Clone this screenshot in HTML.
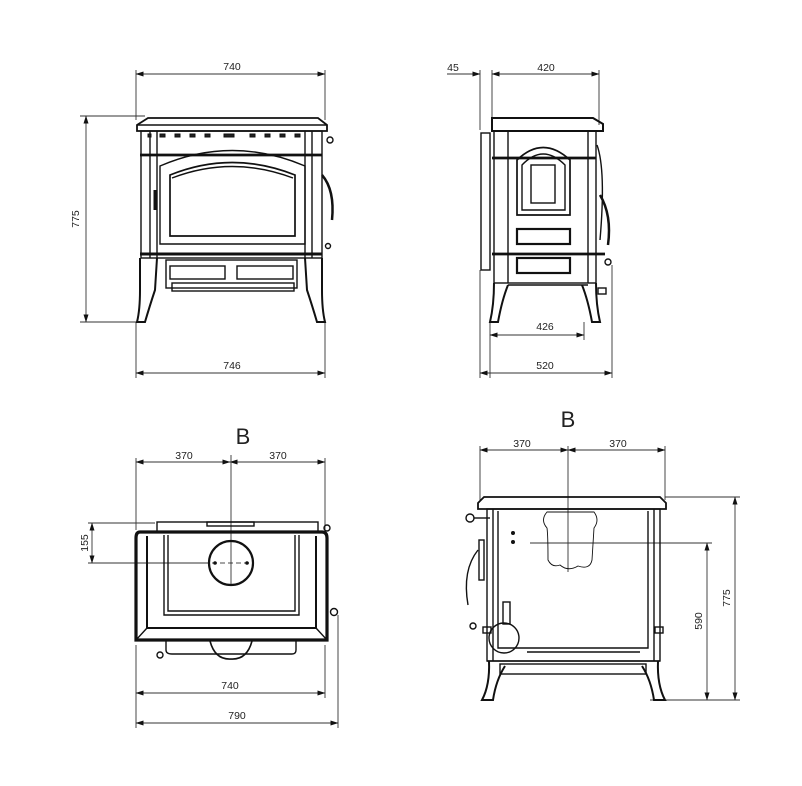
<!DOCTYPE html>
<html><head><meta charset="utf-8"><style>
body{margin:0;background:#fff}
svg{display:block}
text{font-family:"Liberation Sans",sans-serif;font-size:10.5px;fill:#222}
</style></head><body>
<svg width="802" height="786" viewBox="0 0 802 786" xmlns="http://www.w3.org/2000/svg">
<defs>
<marker id="a" markerWidth="8" markerHeight="6" refX="7.5" refY="3" orient="auto-start-reverse" markerUnits="userSpaceOnUse"><path d="M0,0.5 L8,3 L0,5.5z" fill="#111"/></marker>
</defs>
<g stroke="#333" stroke-width="0.9" fill="none">
<line x1="136" y1="70" x2="136" y2="120"/><line x1="325" y1="70" x2="325" y2="120"/>
<line x1="136" y1="74" x2="325" y2="74" marker-start="url(#a)" marker-end="url(#a)"/>
<line x1="80" y1="116" x2="145" y2="116"/><line x1="80" y1="322" x2="140" y2="322"/>
<line x1="86" y1="116" x2="86" y2="322" marker-start="url(#a)" marker-end="url(#a)"/>
<line x1="136" y1="322" x2="136" y2="378"/><line x1="325" y1="322" x2="325" y2="378"/>
<line x1="136" y1="373" x2="325" y2="373" marker-start="url(#a)" marker-end="url(#a)"/>
</g>
<g stroke="#111" fill="none" stroke-width="1.4">
<path d="M148,118 L318,118 L327,125 L327,131 L137,131 L137,125 Z" stroke-width="1.8"/>
<line x1="137" y1="125" x2="327" y2="125"/>
<rect x="141" y="131" width="181" height="127"/>
<line x1="150" y1="131" x2="150" y2="258"/><line x1="312" y1="131" x2="312" y2="258"/>
<line x1="157" y1="131" x2="157" y2="258"/><line x1="305" y1="131" x2="305" y2="258"/>
<line x1="140" y1="155" x2="322" y2="155" stroke-width="2.8"/>
<path d="M160,166 Q232,135 305,166 L305,244 L160,244 Z"/>
<path d="M170,175 Q232,150 295,175 L295,236 L170,236 Z" stroke-width="1.7"/>
<path d="M172,178 Q232,155 293,178"/>
<line x1="140" y1="254" x2="322" y2="254" stroke-width="3"/>
<rect x="166" y="260" width="131" height="28"/>
<rect x="170" y="266" width="55" height="13"/><rect x="237" y="266" width="56" height="13"/>
<rect x="172" y="283" width="122" height="8"/>
<path d="M140,258 L140,290 Q140,310 137,322 L145,322 Q150,305 155,290 L157,258" stroke-width="2"/>
<path d="M322,258 L322,290 Q322,310 325,322 L317,322 Q312,305 307,290 L305,258" stroke-width="2"/>
<path d="M322,175 Q335,190 332,220" stroke-width="2.5"/>
<circle cx="330" cy="140" r="3"/><circle cx="328" cy="246" r="2.5"/>
<line x1="155" y1="190" x2="155" y2="210" stroke-width="3"/>
</g>
<g stroke="#111" fill="#222">
<rect x="148" y="134" width="3" height="3"/><rect x="160" y="134" width="5" height="3"/><rect x="175" y="134" width="5" height="3"/><rect x="190" y="134" width="5" height="3"/><rect x="205" y="134" width="5" height="3"/><rect x="224" y="134" width="10" height="3"/><rect x="250" y="134" width="5" height="3"/><rect x="265" y="134" width="5" height="3"/><rect x="280" y="134" width="5" height="3"/><rect x="295" y="134" width="5" height="3"/>
</g>
<text x="232" y="70" text-anchor="middle">740</text>
<text x="232" y="369" text-anchor="middle">746</text>
<text transform="translate(79,219) rotate(-90)" text-anchor="middle">775</text>

<g stroke="#333" stroke-width="0.9" fill="none">
<line x1="480" y1="70" x2="480" y2="130"/><line x1="492" y1="70" x2="492" y2="118"/><line x1="599" y1="70" x2="599" y2="125"/>
<line x1="447" y1="74" x2="480" y2="74" marker-end="url(#a)"/>
<line x1="492" y1="74" x2="599" y2="74" marker-start="url(#a)" marker-end="url(#a)"/>
<line x1="490" y1="322" x2="490" y2="378"/><line x1="584" y1="322" x2="584" y2="340"/><line x1="612" y1="265" x2="612" y2="378"/><line x1="480" y1="270" x2="480" y2="378"/>
<line x1="490" y1="335" x2="584" y2="335" marker-start="url(#a)" marker-end="url(#a)"/>
<line x1="480" y1="373" x2="612" y2="373" marker-start="url(#a)" marker-end="url(#a)"/>
</g>
<g stroke="#111" fill="none" stroke-width="1.4">
<path d="M492,118 L593,118 L603,124 L603,131 L492,131 Z" stroke-width="2"/>
<rect x="494" y="131" width="102" height="152"/>
<line x1="508" y1="131" x2="508" y2="283"/><line x1="588" y1="131" x2="588" y2="283"/>
<rect x="481" y="133" width="9" height="137"/>
<line x1="492" y1="158" x2="596" y2="158" stroke-width="2.8"/>
<path d="M517,215 L517,160 Q543,135 570,160 L570,215 Z" stroke-width="1.7"/>
<path d="M522,210 L522,165 Q543,143 565,165 L565,210 Z"/>
<rect x="531" y="165" width="24" height="38"/>
<rect x="517" y="229" width="53" height="15" stroke-width="2.2"/>
<rect x="517" y="258" width="53" height="15" stroke-width="2.2"/>
<line x1="492" y1="254" x2="605" y2="254" stroke-width="2.8"/>
<line x1="508" y1="285" x2="588" y2="285"/>
<path d="M494,283 Q494,305 490,322 L498,322 Q502,300 508,285" stroke-width="2"/>
<path d="M596,283 Q596,305 600,322 L592,322 Q588,300 582,285" stroke-width="2"/>
<path d="M597,145 Q606,170 600,240" /><path d="M600,195 Q612,215 608,245" stroke-width="2.5"/>
<circle cx="608" cy="262" r="3"/><rect x="598" y="288" width="8" height="6"/>
</g>
<text x="453" y="71" text-anchor="middle">45</text>
<text x="546" y="71" text-anchor="middle">420</text>
<text x="545" y="330" text-anchor="middle">426</text>
<text x="545" y="369" text-anchor="middle">520</text>

<g stroke="#333" stroke-width="0.9" fill="none">
<line x1="136" y1="458" x2="136" y2="530"/><line x1="325" y1="458" x2="325" y2="530"/>
<line x1="136" y1="462" x2="230" y2="462" marker-start="url(#a)" marker-end="url(#a)"/>
<line x1="230" y1="462" x2="325" y2="462" marker-start="url(#a)" marker-end="url(#a)"/>
<line x1="231" y1="455" x2="231" y2="585"/>
<line x1="88" y1="523" x2="155" y2="523"/><line x1="88" y1="563" x2="210" y2="563"/>
<line x1="92" y1="523" x2="92" y2="563" marker-start="url(#a)" marker-end="url(#a)"/>
<line x1="136" y1="645" x2="136" y2="728"/><line x1="325" y1="645" x2="325" y2="698"/><line x1="338" y1="615" x2="338" y2="728"/>
<line x1="136" y1="693" x2="325" y2="693" marker-start="url(#a)" marker-end="url(#a)"/>
<line x1="136" y1="723" x2="338" y2="723" marker-start="url(#a)" marker-end="url(#a)"/>
</g>
<g stroke="#111" fill="none" stroke-width="1.4">
<rect x="157" y="522" width="161" height="10"/>
<rect x="207" y="522" width="47" height="4"/>
<path d="M140,532 L322,532 Q327,532 327,538 L327,640 L136,640 L136,538 Q136,532 140,532 Z" stroke-width="3.2"/>
<path d="M147,536 L147,628 L316,628 L316,536" stroke-width="2"/>
<path d="M164,535 L164,615 L299,615 L299,535"/>
<path d="M168,535 L168,611 L295,611 L295,535"/>
<line x1="147" y1="628" x2="136" y2="640"/><line x1="316" y1="628" x2="327" y2="640"/>
<circle cx="231" cy="563" r="22" stroke-width="2.2"/>
<path d="M166,641 L166,650 Q166,654 172,654 L292,654 Q296,654 296,650 L296,641"/>
<path d="M210,641 Q215,660 231,659 Q247,660 252,641" stroke-width="1.6"/>
<circle cx="160" cy="655" r="3"/><circle cx="334" cy="612" r="3.5"/><circle cx="327" cy="528" r="3"/>
</g>
<g stroke="#111" stroke-dasharray="5,3" stroke-width="0.8"><line x1="212" y1="563" x2="252" y2="563"/></g>
<circle cx="215" cy="563" r="1.8" fill="#111"/><circle cx="247" cy="563" r="1.8" fill="#111"/>
<text x="243" y="444" text-anchor="middle" style="font-size:22px">B</text>
<text x="184" y="459" text-anchor="middle">370</text>
<text x="278" y="459" text-anchor="middle">370</text>
<text transform="translate(88,543) rotate(-90)" text-anchor="middle">155</text>
<text x="230" y="689" text-anchor="middle">740</text>
<text x="237" y="719" text-anchor="middle">790</text>

<g stroke="#333" stroke-width="0.9" fill="none">
<line x1="480" y1="446" x2="480" y2="500"/><line x1="665" y1="446" x2="665" y2="500"/>
<line x1="480" y1="450" x2="568" y2="450" marker-start="url(#a)" marker-end="url(#a)"/>
<line x1="568" y1="450" x2="665" y2="450" marker-start="url(#a)" marker-end="url(#a)"/>
<line x1="568" y1="446" x2="568" y2="572"/>
<line x1="530" y1="543" x2="712" y2="543"/>
<line x1="665" y1="497" x2="740" y2="497"/><line x1="650" y1="700" x2="740" y2="700"/>
<line x1="735" y1="497" x2="735" y2="700" marker-start="url(#a)" marker-end="url(#a)"/>
<line x1="707" y1="543" x2="707" y2="700" marker-start="url(#a)" marker-end="url(#a)"/>
</g>
<g stroke="#111" fill="none" stroke-width="1.4">
<path d="M484,497 L660,497 L666,503 L666,509 L478,509 L478,503 Z" stroke-width="1.8"/>
<rect x="487" y="509" width="173" height="152"/>
<line x1="493" y1="509" x2="493" y2="661"/><line x1="654" y1="509" x2="654" y2="661"/>
<path d="M498,511 L498,648 L648,648 L648,511"/>
<line x1="527" y1="652" x2="640" y2="652"/>
<path d="M547,512 Q540,520 547,528 Q548,535 548,560 Q552,568 560,565 Q568,572 578,566 Q590,570 592,560 L594,528 Q600,520 594,512 Z" stroke-width="0.9"/>
<circle cx="504" cy="638" r="15"/><rect x="503" y="602" width="7" height="22"/>
<rect x="483" y="627" width="8" height="6"/><rect x="655" y="627" width="8" height="6"/>
<line x1="487" y1="661" x2="660" y2="661"/>
<rect x="500" y="664" width="146" height="10"/>
<path d="M489,661 Q490,685 482,700 L493,700 Q496,680 505,666" stroke-width="2"/>
<path d="M658,661 Q657,685 665,700 L654,700 Q651,680 642,666" stroke-width="2"/>
<circle cx="470" cy="518" r="4"/><line x1="474" y1="518" x2="490" y2="518"/>
<path d="M478,550 Q462,570 468,605"/>
<rect x="479" y="540" width="5" height="40"/>
<circle cx="473" cy="626" r="3"/>
</g>
<circle cx="513" cy="533" r="2" fill="#111"/><circle cx="513" cy="542" r="2" fill="#111"/>
<text x="568" y="427" text-anchor="middle" style="font-size:22px">B</text>
<text x="522" y="447" text-anchor="middle">370</text>
<text x="618" y="447" text-anchor="middle">370</text>
<text transform="translate(730,598) rotate(-90)" text-anchor="middle">775</text>
<text transform="translate(702,621) rotate(-90)" text-anchor="middle">590</text>
</svg>
</body></html>
